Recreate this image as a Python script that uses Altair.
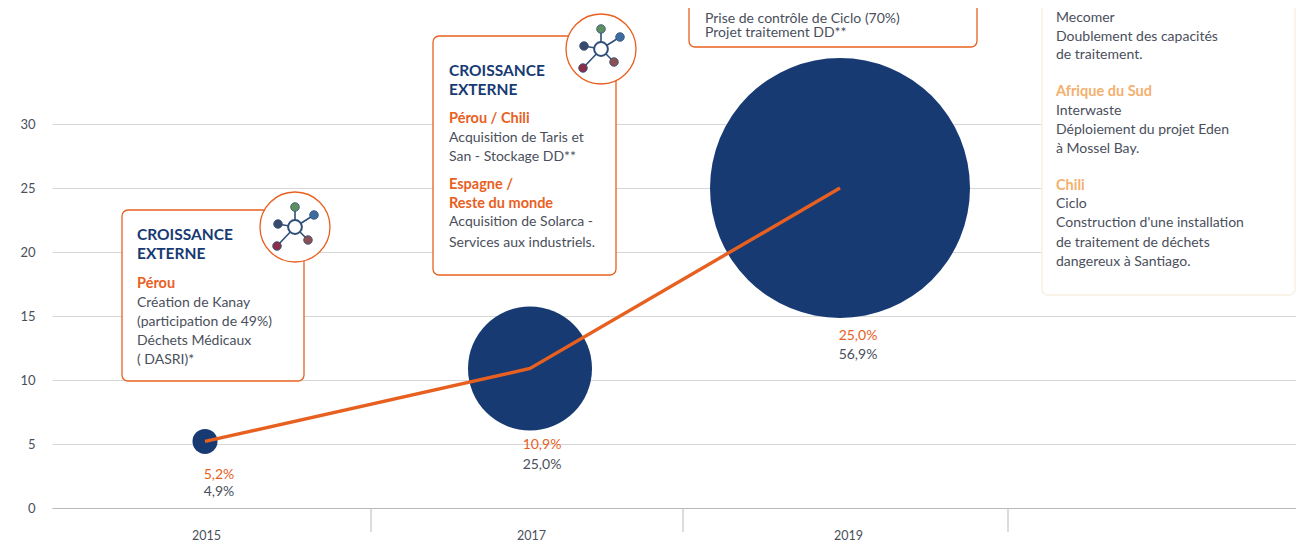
import altair as alt
import pandas as pd

years = [2015, 2017, 2019]
growth = [5.2, 10.9, 25.0]
share = [4.9, 25.0, 56.9]
growth_labels = ["5,2%", "10,9%", "25,0%"]
share_labels = ["4,9%", "25,0%", "56,9%"]
separators = [2016, 2018, 2020]
y_ticks = [0, 5, 10, 15, 20, 25, 30]

box1_head = ["CROISSANCE", "EXTERNE"]
box1_a = ["Pérou"]
box1_b = ["Création de Kanay", "(participation de 49%)", "Déchets Médicaux", "( DASRI)*"]
box2_head = ["CROISSANCE", "EXTERNE"]
box2_a = ["Pérou / Chili"]
box2_b = ["Acquisition de Taris et", "San - Stockage DD**"]
box2_c = ["Espagne /", "Reste du monde"]
box2_d = ["Acquisition de Solarca -", "Services aux industriels."]
box3_a = ["Prise de contrôle de Ciclo (70%)", "Projet traitement DD**"]
box4_a = ["Mecomer", "Doublement des capacités", "de traitement."]
box4_b = ["Afrique du Sud"]
box4_c = ["Interwaste", "Déploiement du projet Eden", "à Mossel Bay."]
box4_d = ["Chili"]
box4_e = ["Ciclo", "Construction d'une installation", "de traitement de déchets", "dangereux à Santiago."]

NAVY = "#173A73"
ORANGE = "#E8601F"
PALE = "#F3B06E"
GREY = "#4A4F5C"
FONT = "Lato"
BODY = 14
HEAD = 15.5
SUB = 14.5

def px(x):
    return x - 52

def py(y):
    return y - 8

df = pd.DataFrame({"year": years, "growth": growth, "share": share,
                   "g": growth_labels, "s": share_labels})
dummy = pd.DataFrame({"k": [0]})

x_scale = alt.Scale(domain=[2014, 2015, 2016, 2017, 2018, 2019, 2020, 2021],
                    range=[0, px(205), px(371), px(530), px(683), px(840), px(1008), px(1296)])
y_scale = alt.Scale(domain=[0, 39.0625], nice=False, zero=True)

base = alt.Chart(df).mark_point(opacity=0).encode(
    x=alt.X("year:Q", scale=x_scale, title=None,
            axis=alt.Axis(values=years, format="d", ticks=False, grid=False,
                          domainColor="#b9b9b9", domainWidth=1.2,
                          labelFont=FONT, labelFontSize=12.5, labelColor=GREY,
                          labelPadding=27, labelBaseline="middle",
                          labelOffset={"condition": {"test": "datum.value == 2019", "value": 8},
                                       "value": 1})),
    y=alt.Y("growth:Q", scale=y_scale, title=None,
            axis=alt.Axis(values=y_ticks, domain=False, ticks=False, grid=True,
                          gridColor="#d6d6d6", gridWidth=1.2,
                          labelFont=FONT, labelFontSize=13, labelColor=GREY,
                          labelPadding=17)),
)

layers = [base]

def box(x0, y0, x1, y1, stroke=ORANGE, width=1.3):
    return alt.Chart(dummy).mark_rect(fill="white", stroke=stroke, strokeWidth=width,
                                      cornerRadius=6).encode(
        x=alt.value(px(x0)), x2=alt.value(px(x1)),
        y=alt.value(py(y0)), y2=alt.value(py(y1)))

def icon(cx, cy):
    out = [alt.Chart(dummy).mark_point(filled=True, fill="white", stroke=ORANGE, strokeWidth=1.3,
                                       shape="circle", size=4900, opacity=1).encode(
        x=alt.value(px(cx)), y=alt.value(py(cy)))]
    nodes = [(0, -20, "#5E8F5E"), (19, -12, "#3E6C9E"), (-17, -3, "#3A4A6A"),
             (-18, 19, "#8A2E4A"), (13, 13, "#8C5050")]
    for dx, dy, c in nodes:
        out.append(alt.Chart(dummy).mark_rule(color="#2F4F78", strokeWidth=1.6).encode(
            x=alt.value(px(cx)), x2=alt.value(px(cx + dx)),
            y=alt.value(py(cy)), y2=alt.value(py(cy + dy))))
    for dx, dy, c in nodes:
        out.append(alt.Chart(dummy).mark_point(filled=True, fill=c, stroke="#2F4F78", strokeWidth=0.8,
                                               shape="circle", size=75, opacity=1).encode(
            x=alt.value(px(cx + dx)), y=alt.value(py(cy + dy))))
    out.append(alt.Chart(dummy).mark_point(filled=True, fill="white", stroke="#2F4F78", strokeWidth=2,
                                           shape="circle", size=190, opacity=1).encode(
        x=alt.value(px(cx)), y=alt.value(py(cy))))
    return out

def lines(items, x, ys, color, size=BODY, weight="normal"):
    out = []
    for t, y in zip(items, ys):
        out.append(alt.Chart(dummy).mark_text(text=t, align="left", baseline="middle", font=FONT,
                                              fontSize=size, fontWeight=weight, color=color).encode(
            x=alt.value(px(x)), y=alt.value(py(y))))
    return out

# separators under the axis
sep = alt.Chart(pd.DataFrame({"s": separators})).mark_rule(color="#b9b9b9", strokeWidth=1).encode(
    x=alt.X("s:Q", scale=x_scale), y=alt.value(py(508)), y2=alt.value(py(532)))
layers.append(sep)

# boxes
layers += [box(122, 210, 304, 381), box(433, 36, 616, 275), box(689, -20, 977, 47),
           box(1042, -20, 1295, 295, stroke="#F8F0E2", width=1.5)]
layers += icon(295, 227) + icon(601, 49)

# bubbles and line
bubbles = alt.Chart(df).mark_point(filled=True, fill=NAVY, stroke=None, shape="circle", opacity=1).encode(
    x=alt.X("year:Q", scale=x_scale),
    y=alt.Y("growth:Q", scale=y_scale),
    size=alt.Size("share:Q", legend=None,
                  scale=alt.Scale(domain=share, range=[625, 15376, 67600], zero=False)),
)
line = alt.Chart(df).mark_line(color=ORANGE, strokeWidth=3.4).encode(
    x=alt.X("year:Q", scale=x_scale),
    y=alt.Y("growth:Q", scale=y_scale),
)
layers += [bubbles, line]

# data labels
for row, xc, y1, y2 in zip(df.itertuples(), [219, 542, 858], [475, 445, 336], [492, 465, 355]):
    layers.append(alt.Chart(df[df.year == row.year]).mark_text(font=FONT, fontSize=BODY, color=ORANGE).encode(
        x=alt.value(px(xc)), y=alt.value(py(y1)), text="g:N"))
    layers.append(alt.Chart(df[df.year == row.year]).mark_text(font=FONT, fontSize=BODY, color=GREY).encode(
        x=alt.value(px(xc)), y=alt.value(py(y2)), text="s:N"))

# annotations
layers += lines(box1_head, 137, [235, 254], NAVY, HEAD, "bold")
layers += lines(box1_a, 137, [284], ORANGE, SUB, "bold")
layers += lines(box1_b, 137, [303, 322, 341, 360], GREY)
layers += lines(box2_head, 449, [71, 90], NAVY, HEAD, "bold")
layers += lines(box2_a, 449, [119], ORANGE, SUB, "bold")
layers += lines(box2_b, 449, [138, 157], GREY)
layers += lines(box2_c, 449, [185, 204], ORANGE, SUB, "bold")
layers += lines(box2_d, 449, [222, 243], GREY)
layers += lines(box3_a, 705, [18.5, 33], GREY)
layers += lines(box4_a, 1056, [18, 37, 55], GREY)
layers += lines(box4_b, 1056, [92], PALE, SUB, "bold")
layers += lines(box4_c, 1056, [111, 130, 149], GREY)
layers += lines(box4_d, 1056, [186], PALE, SUB, "bold")
layers += lines(box4_e, 1056, [204, 223, 243, 262], GREY)

chart = alt.layer(*layers).properties(
    width=1244, height=500,
    autosize=alt.AutoSizeParams(type="none"),
    padding={"left": 44, "top": 0, "right": 0, "bottom": 33},
).configure_view(stroke=None)

chart.save("out.html", embed_options={"renderer": "svg", "actions": False})
